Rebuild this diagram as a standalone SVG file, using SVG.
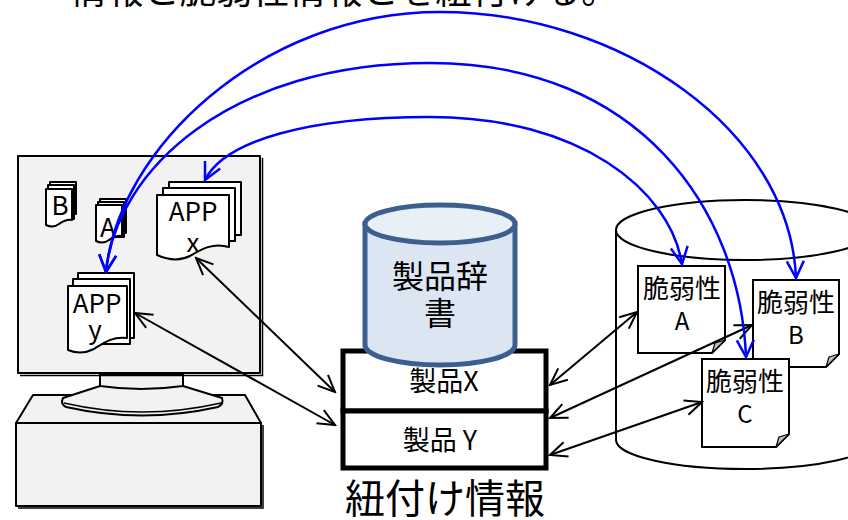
<svg xmlns="http://www.w3.org/2000/svg" width="848" height="520" viewBox="0 0 848 520">
  <style>
    text { font-family: "Noto Sans CJK JP", "Noto Sans", sans-serif; fill: #000; text-anchor: middle; }
    .pc { fill: #f2f2f2; stroke: #000; stroke-width: 2; stroke-linejoin: round; }
    .page { fill: #fff; stroke: #000; stroke-width: 2; stroke-linejoin: round; }
    .vdoc { fill: #fff; stroke: #000; stroke-width: 2; }
    .fold { fill: #c0c0c0; stroke: #000; stroke-width: 1.2; stroke-linejoin: round; }
    .blk { fill: none; stroke: #000; stroke-width: 2; marker-start: url(#ah); marker-end: url(#ah); }
    .blu { fill: none; stroke: #0000ff; stroke-width: 2.5; marker-start: url(#bh); marker-end: url(#bh); }
    .tbl { fill: #fff; stroke: #000; stroke-width: 5; }
  </style>
  <defs>
    <marker id="ah" viewBox="-20 -10 22 20" refX="0" refY="0" markerWidth="22" markerHeight="20" markerUnits="userSpaceOnUse" orient="auto-start-reverse">
      <path d="M-17,-7.5 L0,0 L-17,7.5" fill="none" stroke="#000" stroke-width="2"/>
    </marker>
    <marker id="bh" viewBox="-20 -10 22 20" refX="0" refY="0" markerWidth="22" markerHeight="20" markerUnits="userSpaceOnUse" orient="auto-start-reverse">
      <path d="M-17,-8.5 L0,0 L-17,8.5" fill="none" stroke="#0000ff" stroke-width="2.5"/>
    </marker>
  </defs>

  <!-- caption at the top edge -->
  <text x="344" y="4" font-size="36.5">情報と脆弱性情報とを紐付ける。</text>

  <!-- PC: base unit, stand, neck and monitor -->
  <g id="pc">
    <polygon class="pc" points="33,395 245,395 261,423 16,423"/>
    <rect class="pc" x="16" y="423" width="245" height="83"/>
    <path d="M263,425 V508 H18" fill="none" stroke="#000" stroke-width="1.5"/>
    <path class="pc" d="M100,386 L63,398 Q60,404 66,407 Q142,424 218,407 Q224,404 222,398 L183,386 Z"/>
    <path d="M64,403 Q142,421 221,403" fill="none" stroke="#000" stroke-width="1.5"/>
    <path class="pc" d="M100,374 V386 Q141,392 183,386 V374 Z"/>
    <rect class="pc" x="18" y="156" width="242" height="217"/>
    <path d="M262.5,158 V375.5 H20" fill="none" stroke="#000" stroke-width="1.5"/>
  </g>

  <!-- document B -->
  <g id="doc-b">
    <rect class="page" x="50" y="182" width="26" height="32"/>
    <rect class="page" x="48" y="185" width="26" height="34"/>
    <path class="page" d="M46,189 H72 V220 C66,219 62,222 59,224 C55,227 50,227 46,225 Z"/>
    <text x="60" y="215" font-size="26">B</text>
  </g>

  <!-- document A -->
  <g id="doc-a">
    <rect class="page" x="100" y="199" width="26" height="34"/>
    <rect class="page" x="98" y="202" width="26" height="35"/>
    <path class="page" d="M96,205 H122 V236 C116,235 112,238 109,240 C105,243 100,243 96,241 Z"/>
    <text x="108" y="237" font-size="26">A</text>
  </g>

  <!-- APP x -->
  <g id="app-x">
    <rect class="page" x="169" y="182" width="72" height="53"/>
    <rect class="page" x="163" y="188" width="72" height="53"/>
    <path class="page" d="M157,195 H229 V247 C212,242 200,250 190,256 C178,262 166,259 157,255 Z"/>
    <text x="193" y="221" font-size="26">APP</text>
    <text x="193" y="252" font-size="26">x</text>
  </g>

  <!-- APP y -->
  <g id="app-y">
    <rect class="page" x="78" y="273" width="56" height="65"/>
    <rect class="page" x="73" y="279" width="57" height="65"/>
    <path class="page" d="M68,286 H127 V338 C112,336 102,344 94,349 C84,354 75,353 68,350 Z"/>
    <text x="97" y="313" font-size="26">APP</text>
    <text x="95" y="339" font-size="26">y</text>
  </g>

  <!-- link table -->
  <g id="link-table">
    <rect class="tbl" x="343" y="351" width="203" height="60"/>
    <rect class="tbl" x="343" y="411" width="203" height="57"/>
    <text x="444" y="391" font-size="27">製品X</text>
    <text x="440" y="450" font-size="27">製品 Y</text>
    <text x="445" y="513" font-size="40">紐付け情報</text>
  </g>

  <!-- product dictionary -->
  <g id="product-dict">
    <path d="M365,224 V345 A75,20 0 0 0 515,345 V224 Z" fill="#dce6f2" stroke="#3b5f8e" stroke-width="5"/>
    <ellipse cx="440" cy="224" rx="75" ry="19" fill="#e9eff7" stroke="#3b5f8e" stroke-width="5"/>
    <text x="440" y="288" font-size="32">製品辞</text>
    <text x="440" y="325" font-size="32">書</text>
  </g>

  <!-- vulnerability database -->
  <g id="vuln-db">
    <path d="M616,230 V440 A129,29 0 0 0 874,440 V230" fill="#fff" stroke="#000" stroke-width="2"/>
    <ellipse cx="745" cy="230" rx="129" ry="30" fill="#fff" stroke="#000" stroke-width="2"/>
  </g>

  <g id="vuln-a">
    <path class="vdoc" d="M638,266 H725 V340 L712,353 H638 Z"/>
    <path class="fold" d="M712,353 L715,343 L725,340 Z"/>
    <text x="682" y="298" font-size="26">脆弱性</text>
    <text x="682" y="330" font-size="24">A</text>
  </g>

  <g id="vuln-b">
    <path class="vdoc" d="M753,280 H839 V354 L826,367 H753 Z"/>
    <path class="fold" d="M826,367 L829,357 L839,354 Z"/>
    <text x="796" y="312" font-size="26">脆弱性</text>
    <text x="796" y="344" font-size="24">B</text>
  </g>

  <g id="vuln-c">
    <path class="vdoc" d="M702,359 H789 V434 L776,447 H702 Z"/>
    <path class="fold" d="M776,447 L779,437 L789,434 Z"/>
    <text x="745" y="391" font-size="26">脆弱性</text>
    <text x="745" y="423" font-size="24">C</text>
  </g>

  <!-- connectors -->
  <g id="connectors">
    <line class="blk" x1="196" y1="258" x2="335" y2="392"/>
    <line class="blk" x1="135" y1="313" x2="335" y2="425"/>
    <line class="blk" x1="637" y1="312" x2="550" y2="385"/>
    <line class="blk" x1="752" y1="325" x2="550" y2="418"/>
    <line class="blk" x1="702" y1="402" x2="550" y2="455"/>

    <path class="blu" d="M205,180 C225,140 310,117 430,117 C580,117 670,190 682,264"/>
    <path class="blu" d="M106,272 C116,170 230,63 430,63 C640,63 740,210 746,357"/>
    <path class="blu" d="M106,272 C118,150 260,12 440,12 C620,12 790,130 796,278"/>
  </g>
</svg>
